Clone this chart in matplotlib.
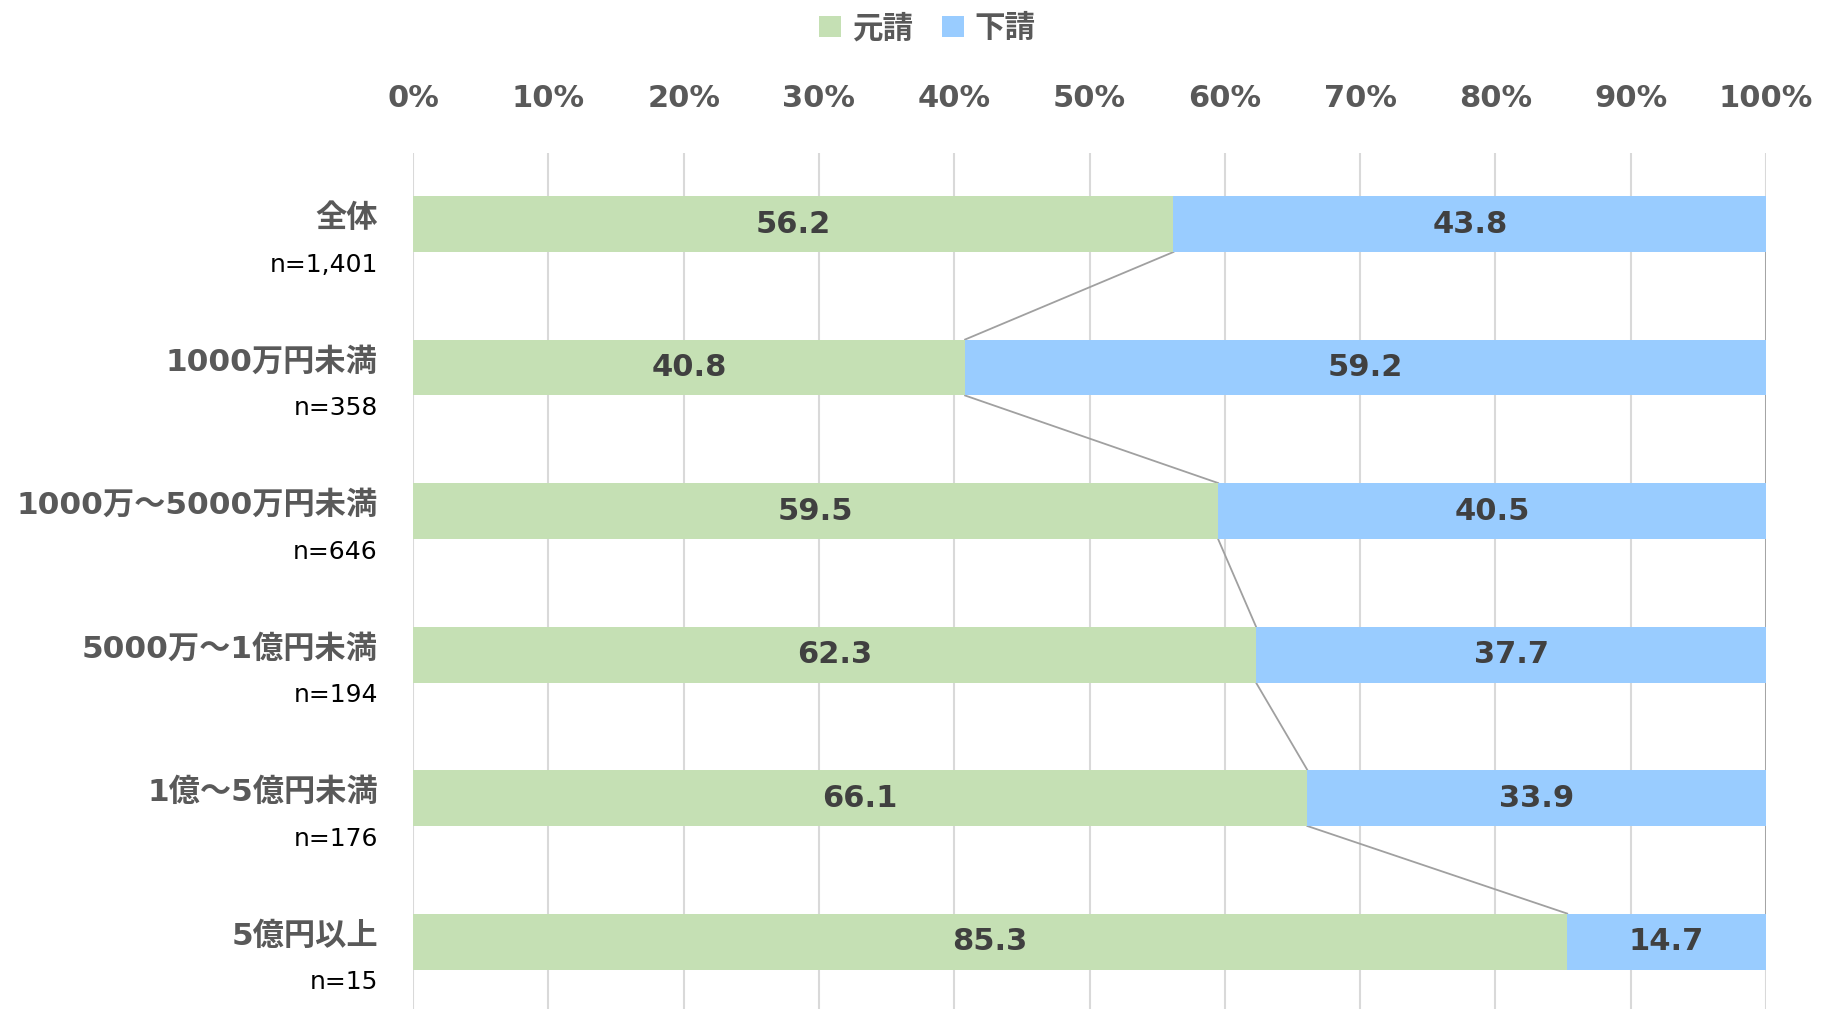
import matplotlib.pyplot as plt
import numpy as np

plt.rcParams['font.family'] = ['DejaVu Sans', 'Noto Sans CJK JP']

# データ
categories = ['全体', '1000万円未満', '1000万～5000万円未満', '5000万～1億円未満', '1億～5億円未満', '5億円以上']
n_labels = ['n=1,401', 'n=358', 'n=646', 'n=194', 'n=176', 'n=15']
motouke = [56.2, 40.8, 59.5, 62.3, 66.1, 85.3]
shitauke = [43.8, 59.2, 40.5, 37.7, 33.9, 14.7]
series_names = ['元請', '下請']

green = '#C5E0B4'
blue = '#99CCFF'
gray_txt = '#595959'

fig = plt.figure(figsize=(18.22, 10.09), dpi=100)
ax = fig.add_axes([0.2267, 0.0, 0.9693 - 0.2267, 0.8484])

y = np.arange(len(categories))
h = 0.39
b1 = ax.barh(y, motouke, height=h, color=green, label=series_names[0], zorder=3)
b2 = ax.barh(y, shitauke, left=motouke, height=h, color=blue, label=series_names[1], zorder=3)

# 数値ラベル
for i in range(len(categories)):
    ax.text(motouke[i] / 2, y[i], f'{motouke[i]:.1f}', ha='center', va='center',
            fontsize=22, fontweight='bold', color='#404040', zorder=4)
    ax.text(motouke[i] + shitauke[i] / 2, y[i], f'{shitauke[i]:.1f}', ha='center', va='center',
            fontsize=22, fontweight='bold', color='#404040', zorder=4)

# 区分線
for i in range(len(categories) - 1):
    ax.plot([motouke[i], motouke[i + 1]], [y[i] + h / 2, y[i + 1] - h / 2],
            color='#A0A0A0', lw=1.3, zorder=2)
    tot0 = motouke[i] + shitauke[i]
    tot1 = motouke[i + 1] + shitauke[i + 1]
    ax.plot([tot0, tot1], [y[i] + h / 2, y[i + 1] - h / 2],
            color='#A0A0A0', lw=1.3, zorder=2)

ax.set_xlim(0, 100)
ax.set_ylim(5.47, -0.495)
ax.set_xticks(np.arange(0, 101, 10))
ax.set_xticklabels([f'{v}%' for v in range(0, 101, 10)])
ax.xaxis.tick_top()
ax.tick_params(axis='x', length=0, pad=29, labelsize=22, labelcolor=gray_txt)
for lab in ax.get_xticklabels():
    lab.set_fontweight('bold')
ax.set_yticks([])
ax.grid(axis='x', color='#D9D9D9', lw=1.5, zorder=0)
for s in ax.spines.values():
    s.set_visible(False)

# カテゴリラベル
for i in range(len(categories)):
    ax.text(-2.6, y[i] - 0.04, categories[i], ha='right', va='center', fontsize=22.5,
            fontweight='bold', color=gray_txt, clip_on=False)
    ax.text(-2.6, y[i] + 0.285, n_labels[i], ha='right', va='center', fontsize=18,
            color='black', clip_on=False)

leg = fig.legend(handles=[b1, b2], labels=series_names, loc='center', bbox_to_anchor=(0.509, 0.972),
                 ncol=2, frameon=False, handlelength=0.72, handleheight=0.72,
                 handletextpad=0.35, columnspacing=0.95,
                 prop={'family': ['Noto Sans CJK JP'], 'weight': 'bold', 'size': 22})
for t in leg.get_texts():
    t.set_color(gray_txt)

fig.savefig('out.png', dpi=100)
